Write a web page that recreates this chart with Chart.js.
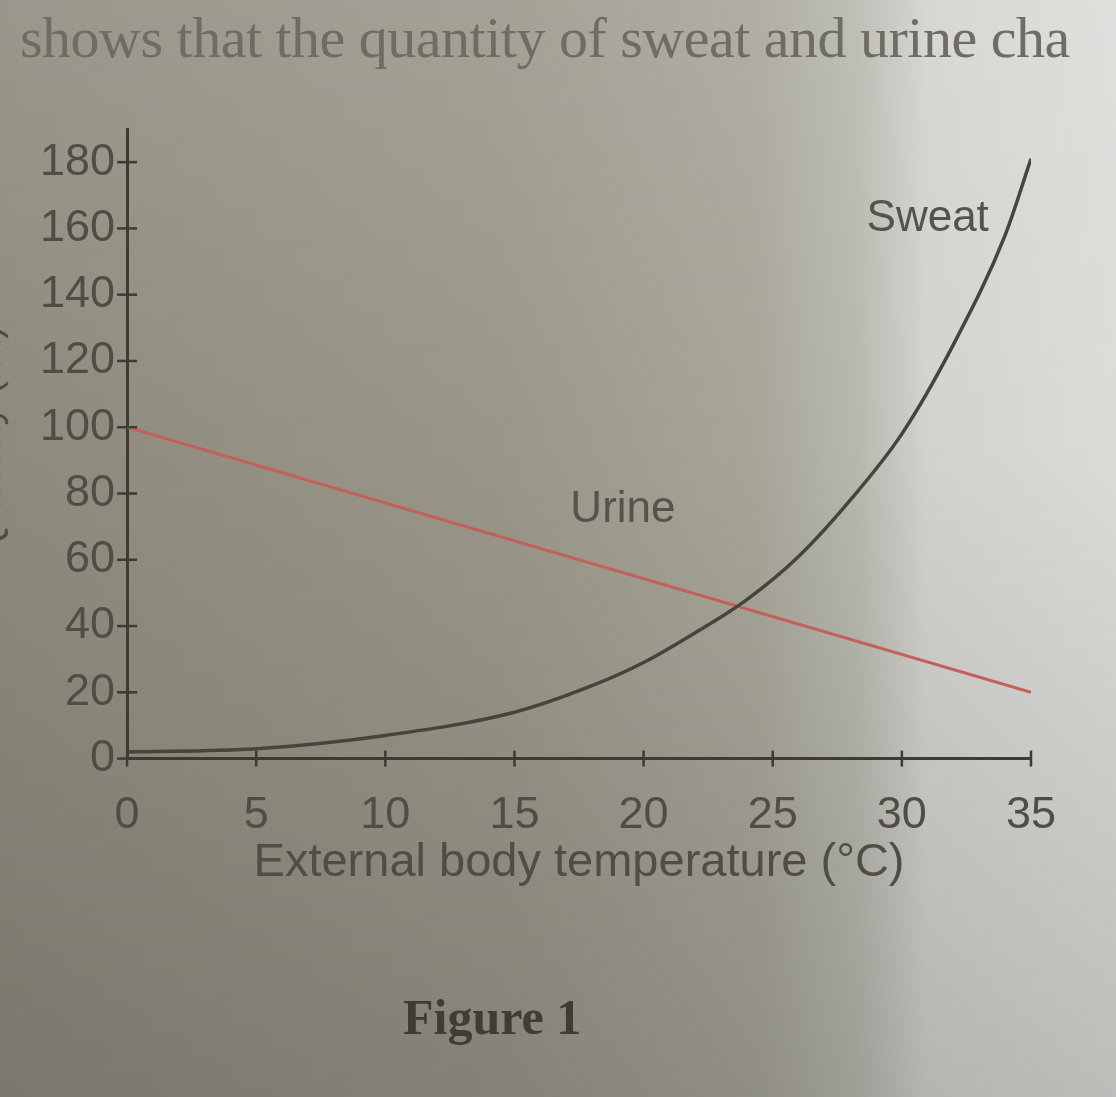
<!DOCTYPE html>
<html>
<head>
<meta charset="utf-8">
<script src="https://cdn.jsdelivr.net/npm/chart.js@4.4.0/dist/chart.umd.min.js"></script>
<style>
  html,body{margin:0;padding:0;width:1116px;height:1097px;overflow:hidden;}
  body{
    background:
      linear-gradient(to bottom, rgba(255,255,255,0.10) 0%, rgba(0,0,0,0) 40%, rgba(0,0,0,0.14) 100%),
      linear-gradient(to right, #8e8b7e 0%, #9a978a 45%, #a8a699 68%, #b9b8b0 77%, #d2d2ce 83%, #dbdbd8 100%);
    position:relative;
  }
  #wrap{position:absolute;left:0;top:0;width:1116px;height:1097px;}
  .top{position:absolute;left:20px;top:4px;font-family:"Liberation Serif","DejaVu Serif",serif;font-size:58px;color:#6e6c64;white-space:nowrap;letter-spacing:-0.5px;}
  .fig{position:absolute;left:403px;top:988px;font-family:"Liberation Serif","DejaVu Serif",serif;font-weight:bold;font-size:50px;color:#3e3c33;}
  .ylab{position:absolute;left:-14px;top:440px;transform:translate(-50%,-50%) rotate(-90deg);font-family:"Liberation Sans",Arial,sans-serif;font-size:40px;color:#4e4c44;white-space:nowrap;}
</style>
</head>
<body>
<div class="top">shows that the quantity of sweat and urine cha</div>
<div class="ylab">Quantity (ml)</div>
<div id="wrap"><canvas id="c" width="1116" height="1097"></canvas></div>
<div class="fig">Figure 1</div>
<script>
// ---- data ----
const xTicks = [0, 5, 10, 15, 20, 25, 30, 35];
const yTicks = [0, 20, 40, 60, 80, 100, 120, 140, 160, 180];
const sweatTemp = [0, 5, 10, 15, 18, 20, 22, 24, 26, 28, 30, 32, 34, 35];
const sweatVal  = [2, 3, 7, 14, 22, 29, 38, 48, 61, 78, 98, 125, 158, 181];
const urineTemp = [0, 35];
const urineVal  = [100, 20];
const seriesLabels = ["Sweat", "Urine"];
const labelPos = {Sweat: [31.0, 163], Urine: [19.2, 75]};

const sweatData = sweatTemp.map((t, i) => ({x: t, y: sweatVal[i]}));
const urineData = urineTemp.map((t, i) => ({x: t, y: urineVal[i]}));

const FONT = '"Liberation Sans", Arial, sans-serif';
const AXIS = '#3d3b33';
const TXT = '#4f4d45';

const crossTicks = {
  id: 'crossTicks',
  afterDraw(chart) {
    const {ctx, scales: {x, y}} = chart;
    ctx.save();
    ctx.strokeStyle = AXIS;
    ctx.lineWidth = 2.5;
    xTicks.forEach(v => {
      const px = x.getPixelForValue(v);
      ctx.beginPath(); ctx.moveTo(px, y.bottom - 8); ctx.lineTo(px, y.bottom + 8); ctx.stroke();
    });
    yTicks.forEach(v => {
      const py = y.getPixelForValue(v);
      ctx.beginPath(); ctx.moveTo(x.left - 10, py); ctx.lineTo(x.left + 10, py); ctx.stroke();
    });
    ctx.font = '44px ' + FONT;
    ctx.fillStyle = '#55534b';
    ctx.textAlign = 'center';
    ctx.textBaseline = 'middle';
    seriesLabels.forEach(name => {
      const p = labelPos[name];
      ctx.fillText(name, x.getPixelForValue(p[0]), y.getPixelForValue(p[1]));
    });
    ctx.restore();
  }
};

new Chart(document.getElementById('c'), {
  type: 'line',
  data: {
    datasets: [
      {label: 'Sweat', data: sweatData, borderColor: '#45443d', borderWidth: 3.5, pointRadius: 0, tension: 0.4, cubicInterpolationMode: 'monotone', fill: false},
      {label: 'Urine', data: urineData, borderColor: '#c2605a', borderWidth: 3, pointRadius: 0, tension: 0, fill: false}
    ]
  },
  options: {
    responsive: false,
    animation: false,
    events: [],
    layout: {padding: {left: 28, right: 85, top: 129, bottom: 206}},
    plugins: {legend: {display: false}, tooltip: {enabled: false}, title: {display: false}},
    scales: {
      x: {
        type: 'linear', min: 0, max: 35,
        afterBuildTicks: s => { s.ticks = xTicks.map(v => ({value: v})); },
        grid: {display: false, drawTicks: false},
        border: {display: true, color: AXIS, width: 3},
        ticks: {color: TXT, font: {family: FONT, size: 45}, padding: 30},
        title: {display: true, text: 'External body temperature (\u00b0C)', color: TXT, font: {family: FONT, size: 47}, padding: {top: -38, bottom: 0}}
      },
      y: {
        type: 'linear', min: 0, max: 190,
        afterBuildTicks: s => { s.ticks = yTicks.map(v => ({value: v})); },
        grid: {display: false, drawTicks: false},
        border: {display: true, color: AXIS, width: 3},
        ticks: {color: TXT, font: {family: FONT, size: 45}, padding: 12}
      }
    }
  },
  plugins: [crossTicks]
});
</script>
</body>
</html>
